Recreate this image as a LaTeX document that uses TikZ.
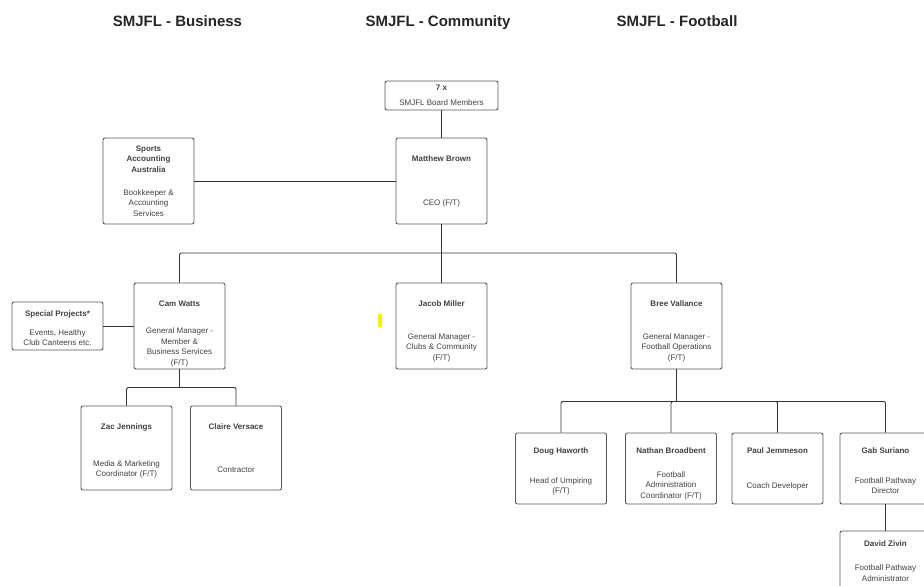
\documentclass[tikz,border=0pt]{standalone}
\usepackage{fontspec}
\setmainfont{Liberation Sans}
\newcommand{\nm}[2][0pt]{\rule{0pt}{#1}\textbf{#2}}
\begin{document}
\begin{tikzpicture}[x=1pt, y=-1pt, line width=0.9pt,
  card/.style={draw=black!65, rounded corners=2pt, minimum width=91pt, minimum height=86pt,
    align=center, inner sep=1pt, text=black!75, font=\fontsize{8}{10.5}\selectfont},
  head/.style={anchor=base, font=\fontsize{15}{18}\selectfont\bfseries, text=black!85},
  link/.style={draw=black!80, rounded corners=2pt}]
\clip (0,0) rectangle (924,586);

\node[head] (hbus) at (177.5,27) {SMJFL - Business};
\node[head] (hcom) at (438,27) {SMJFL - Community};
\node[head] (hfoot) at (677,27) {SMJFL - Football};

\node[card, minimum width=113pt, minimum height=29pt] (board) at (441.5,95.5) {\nm{7 x}\\[4.5pt]SMJFL Board Members};
\node[card] (mb) at (441.5,181) {\nm{Matthew Brown}\\[33.5pt]CEO (F/T)};
\node[card] (saa) at (148.5,181) {\nm{Sports}\\\nm{Accounting}\\\nm{Australia}\\[12.5pt]Bookkeeper \&\\Accounting\\Services};

\node[card] (cw) at (179.5,326) {\nm[22pt]{Cam Watts}\\[16.5pt]General Manager -\\Member \&\\Business Services\\(F/T)};
\node[card, minimum height=48pt] (sp) at (57.5,326) {\nm[10pt]{Special Projects*}\\[8.5pt]Events, Healthy\\Club Canteens etc.};
\node[card] (jm) at (441.5,326) {\nm[16pt]{Jacob Miller}\\[22.5pt]General Manager -\\Clubs \& Community\\(F/T)};
\node[card] (bv) at (676.5,326) {\nm[16pt]{Bree Vallance}\\[22.5pt]General Manager -\\Football Operations\\(F/T)};

\node[card, minimum height=84pt] (zj) at (126.5,448) {\nm[12pt]{Zac Jennings}\\[26.5pt]Media \& Marketing\\Coordinator (F/T)};
\node[card, minimum height=84pt] (cv) at (236,448) {\nm{Claire Versace}\\[32.5pt]Contractor};

\node[card, minimum height=71pt] (dh) at (561,468.5) {\nm[12pt]{Doug Haworth}\\[19.5pt]Head of Umpiring\\(F/T)};
\node[card, minimum height=71pt] (nb) at (671,468.5) {\nm[16pt]{Nathan Broadbent}\\[13.5pt]Football\\Administration\\Coordinator (F/T)};
\node[card, minimum height=71pt] (pj) at (777.5,468.5) {\nm{Paul Jemmeson}\\[24.5pt]Coach Developer};
\node[card, minimum height=71pt] (gs) at (885.5,468.5) {\nm[10pt]{Gab Suriano}\\[19.5pt]Football Pathway\\Director};
\node[card, minimum height=60pt] (dz) at (885.5,561) {\nm{David Zivin}\\[13.5pt]Football Pathway\\Administrator};

\fill[yellow!95!orange] (378,314) rectangle (382,327);

\coordinate (topbus) at (441.5,253);
\draw[link] (board) -- (mb);
\draw[link] (saa) -- (mb);
\draw[link] (mb) -- (jm);
\draw[link] (cw.north) |- (topbus) -| (bv.north);
\draw[link] (sp) -- (cw);
\draw[link] (cw.south) -- ++(0,18) coordinate (cwbus);
\draw[link] (zj.north) |- (cwbus) -| (cv.north);
\draw[link] (bv.south) -- ++(0,32) coordinate (bvbus);
\draw[link] (dh.north) |- (bvbus) -| (gs.north);
\draw[link] (nb.north) |- (bvbus);
\draw[link] (pj.north) |- (bvbus);
\draw[link] (gs) -- (dz);
\end{tikzpicture}
\end{document}
